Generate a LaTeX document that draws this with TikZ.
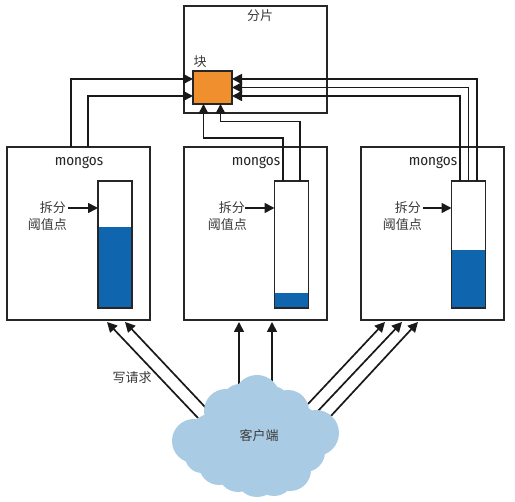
\documentclass[tikz,border=0pt]{standalone}
\usepackage{fontspec}
\setmainfont{Fira Sans Condensed}
\newfontfamily\cjk{Noto Sans CJK SC}
\usetikzlibrary{arrows.meta,calc,positioning}
\definecolor{gaugeblue}{HTML}{1066AE}
\definecolor{chunkorange}{HTML}{EF8F2D}
\definecolor{cloudblue}{HTML}{A9CCE4}
\definecolor{txt}{HTML}{3A3A3A}
\tikzset{
  panel/.style={draw=black!85,line width=1.5pt,fill=white,inner sep=0pt,outer sep=0pt,minimum width=#1,anchor=north west},
  mongosbox/.style={panel=143pt,minimum height=173pt},
  gauge/.style={draw=black!85,line width=1.5pt,fill=white,inner sep=0pt,outer sep=0pt,minimum width=34pt,minimum height=127pt,anchor=north west},
  level/.style={fill=gaugeblue},
  frame/.style={draw=black!85,line width=1.5pt},
  chunkbox/.style={draw=black!85,line width=1.5pt,fill=chunkorange,inner sep=0pt,outer sep=0pt,minimum width=39pt,minimum height=33pt,anchor=north west},
  conn/.style={draw=black!90,line width=1.7pt,-{Triangle[length=10pt,width=10pt]}},
  lab/.style={text=txt,font=\cjk\fontsize{13}{15}\selectfont,inner sep=0pt},
  monolab/.style={text=black!85,font=\fontsize{15}{17}\selectfont,inner sep=0pt},
  lobe/.style={fill=cloudblue,draw=none}
}
\begin{document}
\begin{tikzpicture}[x=1pt,y=-1pt]
\useasboundingbox (0,0) rectangle (515,502);
% panels
\node[panel=143pt,minimum height=107pt] (shard) at (184,6) {};
\node[mongosbox] (m1) at (7,147) {};
\node[mongosbox] (m2) at (184,147) {};
\node[mongosbox] (m3) at (361,147) {};
\node[lab] (shardlab) at (260,16) {分片};
\node[lab] (chunklab) at (200,62) {块};
\node[monolab] (mt1) at (79,163) {mongos};
\node[monolab] (mt2) at (256,163) {mongos};
\node[monolab] (mt3) at (433,163) {mongos};
% gauges
\node[gauge] (g1) at (98,181) {};
\node[gauge] (g2) at (274.5,181) {};
\node[gauge] (g3) at (451.5,181) {};
\fill[level] (98,227) rectangle (g1.south east);
\fill[level] (274.5,293) rectangle (g2.south east);
\fill[level] (451.5,250) rectangle (g3.south east);
\draw[frame] (g1.north west) rectangle (g1.south east);
\draw[frame] (g2.north west) rectangle (g2.south east);
\draw[frame] (g3.north west) rectangle (g3.south east);
% chunk
\node[chunkbox] (chunk) at (193,71) {};
% threshold labels
\node[lab,anchor=east] (s1) at (66,208) {拆分};
\node[lab,anchor=east] (t1) at (67,225) {阈值点};
\node[lab,anchor=east] (s2) at (245,208) {拆分};
\node[lab,anchor=east] (t2) at (247,225) {阈值点};
\node[lab,anchor=east] (s3) at (421,208) {拆分};
\node[lab,anchor=east] (t3) at (422,225) {阈值点};
\draw[conn] (s1.east)++(2,0) -- (s1.east -| g1.west);
\draw[conn] (s2.east) -- (s2.east -| g2.west);
\draw[conn] (s3.east)++(2,0) -- (s3.east -| g3.west);
% connectors to chunk
\coordinate (cl1) at (193,79);
\coordinate (cl2) at (193,96);
\coordinate (cb1) at (203.5,104);
\coordinate (cb2) at (220.5,104);
\coordinate (cr1) at (232,79);
\coordinate (cr2) at (232,87.5);
\coordinate (cr3) at (232,96);
\draw[conn] (71,147) -- (71,79) -- (cl1);
\draw[conn] (88,147) -- (88,96) -- (cl2);
\draw[conn] (283,181) -- (283,138) -- (203.5,138) -- (cb1);
\draw[conn] (300,181) -- (300,121.5) -- (220.5,121.5) -- (cb2);
\draw[conn] (460,181) -- (460,96) -- (cr3);
\draw[conn] (468.5,181) -- (468.5,87.5) -- (cr2);
\draw[conn] (477,181) -- (477,79) -- (cr1);
% client arrows
\coordinate (a1) at (198,418); \coordinate (b1) at (107,322);
\coordinate (a2) at (206,408); \coordinate (b2) at (125,322);
\coordinate (a3) at (239,392); \coordinate (b3) at (239,322);
\coordinate (a4) at (272,392); \coordinate (b4) at (272,322);
\coordinate (a5) at (308,404); \coordinate (b5) at (385,322);
\coordinate (a6) at (317,412); \coordinate (b6) at (402,322);
\coordinate (a7) at (330,417); \coordinate (b7) at (418,322);
\foreach \i in {1,...,7} {\draw[conn] (a\i) -- (b\i);}
% cloud
\foreach \cx/\cy/\r in {257/398/23,226/411/22,194/441/22,219/465/20,257/475/22,290/470/21,316/433/23,288/411/21,
  240/402/18,210/432/18,202/456/17,238/472/20,274/476/20,305/452/20,300/424/18,272/404/18}
  {\fill[lobe] (\cx,\cy) circle (\r);}
\fill[lobe] (256,438) ellipse (60 and 34);
\node[lab] (client) at (259,436) {客户端};
\node[lab] (writes) at (132,378) {写请求};
\end{tikzpicture}
\end{document}
